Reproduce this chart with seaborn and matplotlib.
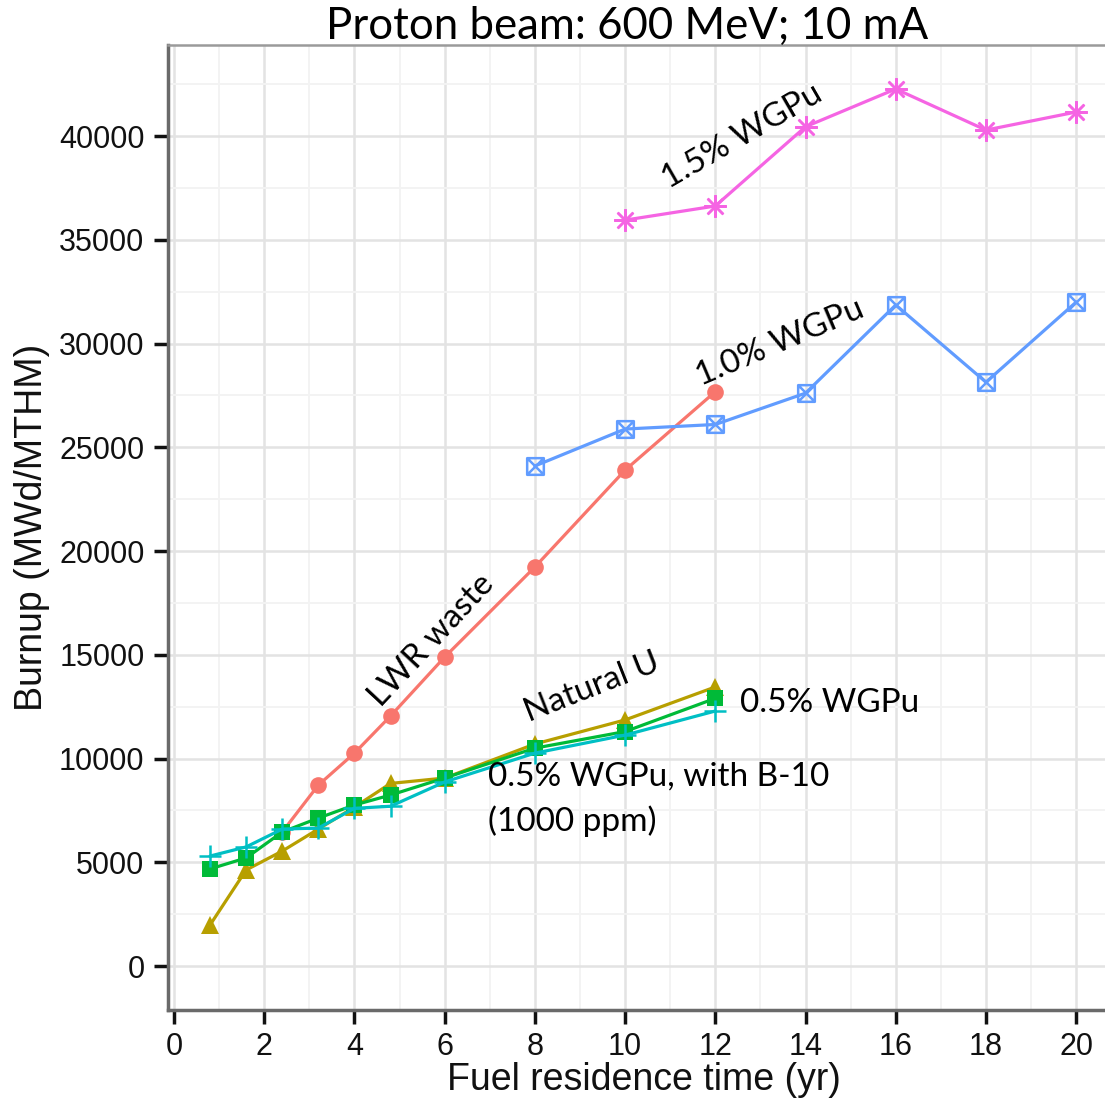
import numpy as np
import pandas as pd
import matplotlib
matplotlib.use("Agg")
import matplotlib.pyplot as plt
from matplotlib.path import Path
from matplotlib.ticker import MultipleLocator
import seaborn as sns

# ---- data ----
lwr_x = [2.4, 3.2, 4, 4.8, 6, 8, 10, 12]
lwr_y = [6460, 8720, 10260, 12050, 14890, 19230, 23900, 27680]

natu_x = [0.8, 1.6, 2.4, 3.2, 4, 4.8, 6, 8, 10, 12]
natu_y = [1980, 4630, 5540, 6600, 7660, 8800, 9060, 10700, 11860, 13450]

wgpu05_x = [0.8, 1.6, 2.4, 3.2, 4, 4.8, 6, 8, 10, 12]
wgpu05_y = [4680, 5210, 6460, 7130, 7760, 8240, 9060, 10500, 11300, 12900]

b10_x = [0.8, 1.6, 2.4, 3.2, 4, 4.8, 6, 8, 10, 12]
b10_y = [5300, 5740, 6600, 6650, 7600, 7700, 8870, 10260, 11130, 12290]

wgpu10_x = [8, 10, 12, 14, 16, 18, 20]
wgpu10_y = [24100, 25880, 26100, 27610, 31860, 28140, 32000]

wgpu15_x = [10, 12, 14, 16, 18, 20]
wgpu15_y = [35950, 36630, 40450, 42270, 40290, 41160]

series_names = ["LWR waste", "Natural U", "0.5% WGPu", "0.5% WGPu, B-10", "1.0% WGPu", "1.5% WGPu"]
palette = ["#F8766D", "#B79F00", "#00BA38", "#00BFC4", "#619CFF", "#F564E3"]

x_ticks = [0, 2, 4, 6, 8, 10, 12, 14, 16, 18, 20]
y_ticks = [0, 5000, 10000, 15000, 20000, 25000, 30000, 35000, 40000]

title = "Proton beam: 600 MeV; 10 mA"
x_label = "Fuel residence time (yr)"
y_label = "Burnup (MWd/MTHM)"

frames = []
for name, xs, ys in zip(series_names,
                        [lwr_x, natu_x, wgpu05_x, b10_x, wgpu10_x, wgpu15_x],
                        [lwr_y, natu_y, wgpu05_y, b10_y, wgpu10_y, wgpu15_y]):
    frames.append(pd.DataFrame({"time": xs, "burnup": ys, "series": name}))
df = pd.concat(frames, ignore_index=True)

# square-cross marker
sqx = Path([(-1, -1), (1, -1), (1, 1), (-1, 1), (-1, -1),
            (-1, -1), (1, 1), (-1, 1), (1, -1)],
           [Path.MOVETO, Path.LINETO, Path.LINETO, Path.LINETO, Path.CLOSEPOLY,
            Path.MOVETO, Path.LINETO, Path.MOVETO, Path.LINETO])

marker_spec = {
    "LWR waste": dict(marker="o", ms=12, mfc=None, mew=0),
    "Natural U": dict(marker="^", ms=13, mfc=None, mew=0),
    "0.5% WGPu": dict(marker="s", ms=12, mfc=None, mew=0),
    "0.5% WGPu, B-10": dict(marker="+", ms=16, mfc=None, mew=1.8),
    "1.0% WGPu": dict(marker=sqx, ms=12, mfc="none", mew=1.8),
    "1.5% WGPu": dict(marker=(8, 2, 0), ms=16, mfc=None, mew=1.8),
}

sns.set_theme(style="white")
plt.rcParams["font.family"] = ["Liberation Sans", "DejaVu Sans"]

fig = plt.figure(figsize=(11.05, 11.0), dpi=100)
W, H = 1105, 1100
ax = fig.add_axes([168 / W, 1 - 1010 / H, (1110 - 168) / W, (1010 - 45) / H])

for name, col in zip(series_names, palette):
    sub = df[df["series"] == name]
    spec = marker_spec[name]
    kw = dict(marker=spec["marker"], markersize=spec["ms"], markeredgewidth=spec["mew"],
              markeredgecolor=col)
    if spec["mfc"] is not None:
        kw["markerfacecolor"] = spec["mfc"]
    sns.lineplot(data=sub, x="time", y="burnup", color=col, lw=2.3, ax=ax,
                 legend=False, **kw)

ax.set_xlim(-0.133, 20.75)
ax.set_ylim(-2120, 44390)
ax.set_xticks(x_ticks)
ax.set_yticks(y_ticks)
ax.set_xticklabels([str(v) for v in x_ticks])
ax.set_yticklabels([str(v) for v in y_ticks])
ax.xaxis.set_minor_locator(MultipleLocator(1))
ax.yaxis.set_minor_locator(MultipleLocator(2500))
ax.grid(True, which="major", color="#E3E3E3", lw=1.8)
ax.grid(True, which="minor", color="#F3F3F3", lw=1.4)
ax.set_axisbelow(True)
ax.tick_params(axis="both", which="major", direction="out", length=10, width=2.5,
               color="#111111", labelsize=22, labelcolor="#111111",
               bottom=True, left=True)
ax.tick_params(axis="y", which="major", pad=7)
ax.tick_params(axis="x", which="major", pad=6)
ax.tick_params(axis="both", which="minor", length=0)

for s in ["left", "bottom"]:
    ax.spines[s].set_color("#6a6a6a")
    ax.spines[s].set_linewidth(2.5)
ax.spines["top"].set_color("#9a9a9a")
ax.spines["top"].set_linewidth(1.8)
ax.spines["right"].set_visible(False)

ax.set_xlabel(x_label, fontsize=27, color="#111111")
ax.set_ylabel(y_label, fontsize=27, color="#111111")
ax.xaxis.set_label_coords((644 - 168) / (1110 - 168), -(1080 - 1010) / (1010 - 45))
ax.yaxis.set_label_coords(-(168 - 32) / (1110 - 168), (1010 - 527) / (1010 - 45))
ax.xaxis.label.set_va("center")
ax.yaxis.label.set_va("center")

afont = ["Lato", "DejaVu Sans"]
fig.text(627 / W, 1 - 26 / H, title, ha="center", va="center", fontsize=31.5,
         family=afont, color="black")

def ptxt(px, py, s, rot=0, ha="center", va="center", size=24):
    fig.text(px / W, 1 - py / H, s, ha=ha, va=va, rotation=rot, rotation_mode="anchor",
             fontsize=size, family=afont, color="black")

ptxt(742, 136, "1.5% WGPu", rot=30)
ptxt(780, 343, "1.0% WGPu", rot=23)
ptxt(432, 640, "LWR waste", rot=47)
ptxt(592, 688, "Natural U", rot=21.5)
ptxt(740, 703, "0.5% WGPu", ha="left")
ptxt(488, 777, "0.5% WGPu, with B-10", ha="left")
ptxt(488, 821, "(1000 ppm)", ha="left")

fig.savefig("out.png", dpi=100)
